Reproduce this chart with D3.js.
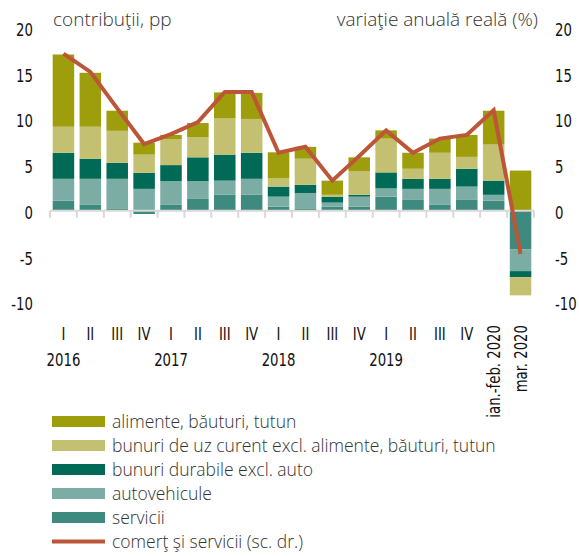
<!DOCTYPE html>
<html>
<head>
<meta charset="utf-8">
<script src="https://cdn.jsdelivr.net/npm/d3@7"></script>
<style>
  body { margin: 0; background: #fff; }
  .tick text, .xlab { font-family: "DejaVu Sans Condensed", "DejaVu Sans", sans-serif; font-size: 18px; fill: #111; }
  .ttl { font-family: "Open Sans", sans-serif; font-weight: 300; font-size: 19px; fill: #333; }
  .leg { font-family: "Open Sans", sans-serif; font-weight: 300; font-size: 17.5px; fill: #333; }
</style>
</head>
<body>
<svg id="chart"></svg>
<script>
const width = 579
const height = 556
const squeeze = 0.82   // narrow the tick font to look condensed

// data
const categories = ["2016 I","2016 II","2016 III","2016 IV","2017 I","2017 II","2017 III","2017 IV",
                    "2018 I","2018 II","2018 III","2018 IV","2019 I","2019 II","2019 III","2019 IV",
                    "ian.-feb. 2020","mar. 2020"]
const quarterLabels = ["I","II","III","IV","I","II","III","IV","I","II","III","IV","I","II","III","IV","",""]
const yearLabels = ["2016","","","","2017","","","","2018","","","","2019","","","","",""]
const rotatedLabels = ["","","","","","","","","","","","","","","","","ian.-feb. 2020","mar. 2020"]

const servicii   = [1.1, 0.65, 0.2, -0.35, 0.65, 1.3, 1.75, 1.75, 0.45, 0.2, 0.45, 0.45, 1.55, 1.25, 0.65, 1.25, 1.1, -4.2]
const autovehicule = [2.4, 2.85, 3.3, 2.4, 2.6, 1.95, 1.55, 1.75, 1.1, 1.75, 0.45, 1.1, 0.9, 1.15, 1.75, 1.4, 0.65, -2.4]
const durabile   = [2.85, 2.2, 1.75, 1.75, 1.75, 2.6, 2.85, 2.85, 1.1, 0.9, 0.65, 0.2, 1.75, 1.1, 1.1, 1.95, 1.55, -0.65]
const uzCurent   = [2.85, 3.5, 3.5, 2.0, 2.85, 2.2, 3.95, 3.7, 0.9, 2.85, 0.2, 2.6, 3.7, 1.1, 2.85, 1.3, 3.95, -2.0]
const alimente   = [7.9, 5.9, 2.2, 1.3, 0.45, 1.55, 2.85, 2.85, 2.85, 1.3, 1.55, 1.5, 0.9, 1.75, 1.55, 2.4, 3.7, 4.4]
const comert     = [17.2, 15.2, 11.2, 7.3, 8.4, 9.7, 13.0, 13.0, 6.35, 7.0, 3.3, 6.0, 8.8, 6.35, 7.9, 8.3, 11.0, -4.7]

const yTicks = [-10, -5, 0, 5, 10, 15, 20]

const seriesNames = ["servicii", "autovehicule", "bunuri durabile excl. auto",
                     "bunuri de uz curent excl. alimente, băuturi, tutun", "alimente, băuturi, tutun"]
const seriesValues = [servicii, autovehicule, durabile, uzCurent, alimente]
const colors = ["#3f8a7e", "#7bada4", "#006a56", "#c3c171", "#9e9d0b"]
const lineColor = "#bd5538"

const rows = categories.map((c, i) => {
  const r = { cat: c }
  seriesNames.forEach((s, k) => r[s] = seriesValues[k][i])
  return r
})

const x = d3.scaleBand()
            .domain(categories)
            .range([50, 534])
            .paddingInner(0.2)
            .paddingOuter(0.1)
const y = d3.scaleLinear()
            .domain([-10, 20])
            .range([302.2, 28])

const svg = d3.select("#chart")
              .attr("width", width)
              .attr("height", height)

const stack = d3.stack()
                .keys(seriesNames)
                .offset(d3.stackOffsetDiverging)
const stacked = stack(rows)

svg.append("g")
   .selectAll("g")
   .data(stacked)
   .join("g")
     .attr("fill", (d, i) => colors[i])
   .selectAll("rect")
   .data(d => d)
   .join("rect")
     .attr("x", d => x(d.data.cat))
     .attr("width", x.bandwidth())
     .attr("y", d => y(Math.max(d[0], d[1])))
     .attr("height", d => Math.abs(y(d[0]) - y(d[1])))

// zero axis with ticks between categories
const step = x.step()
const xa = svg.append("g").attr("stroke", "#d9d9d9").attr("stroke-width", 2)
xa.append("line")
  .attr("x1", 50).attr("x2", 534)
  .attr("y1", y(0)).attr("y2", y(0))
xa.selectAll("line.tk")
  .data(d3.range(categories.length + 1))
  .join("line")
    .attr("class", "tk")
    .attr("x1", i => 50 + i * step).attr("x2", i => 50 + i * step)
    .attr("y1", y(0)).attr("y2", y(0) + 7)

// line on right scale (same range)
const line = d3.line()
               .x((d, i) => x(categories[i]) + x.bandwidth() / 2)
               .y(d => y(d))
svg.append("path")
   .datum(comert)
   .attr("fill", "none")
   .attr("stroke", lineColor)
   .attr("stroke-width", 4)
   .attr("d", line)

// y axes (plain hyphen for negatives, like the original)
const fmt = d => String(d)
const yl = svg.append("g")
              .attr("transform", "translate(33,0)")
              .call(d3.axisLeft(y).tickValues(yTicks).tickFormat(fmt).tickSize(0).tickPadding(0))
yl.select(".domain").remove()
yl.selectAll("text").attr("x", 0).attr("dy", "0.42em").attr("transform", `scale(${squeeze},1)`)

const yr = svg.append("g")
              .attr("transform", "translate(555,0)")
              .call(d3.axisRight(y).tickValues(yTicks).tickFormat(fmt).tickSize(0).tickPadding(0))
yr.select(".domain").remove()
yr.selectAll("text").attr("x", 0).attr("dy", "0.42em").attr("transform", `scale(${squeeze},1)`)

// x labels
const cx = i => x(categories[i]) + x.bandwidth() / 2
svg.append("g")
   .selectAll("text")
   .data(quarterLabels)
   .join("text")
     .attr("class", "xlab")
     .attr("text-anchor", "middle")
     .attr("transform", (d, i) => `translate(${cx(i)},340) scale(${squeeze},1)`)
     .text(d => d)
svg.append("g")
   .selectAll("text")
   .data(yearLabels)
   .join("text")
     .attr("class", "xlab")
     .attr("text-anchor", "middle")
     .attr("transform", (d, i) => `translate(${cx(i)},366) scale(${squeeze},1)`)
     .text(d => d)
svg.append("g")
   .selectAll("text")
   .data(rotatedLabels)
   .join("text")
     .attr("class", "xlab")
     .attr("text-anchor", "end")
     .attr("transform", (d, i) => `translate(${cx(i) + 6},325) rotate(-90) scale(${squeeze},1)`)
     .text(d => d)

// titles
svg.append("text").attr("class", "ttl").attr("x", 53).attr("y", 26).text("contribuţii, pp")
svg.append("text").attr("class", "ttl").attr("x", 538).attr("y", 26).attr("text-anchor", "end").text("variaţie anuală reală (%)")

// legend
const legendItems = [
  { name: "alimente, băuturi, tutun", color: colors[4] },
  { name: "bunuri de uz curent excl. alimente, băuturi, tutun", color: colors[3] },
  { name: "bunuri durabile excl. auto", color: colors[2] },
  { name: "autovehicule", color: colors[1] },
  { name: "servicii", color: colors[0] }
]
const leg = svg.append("g")
legendItems.forEach((it, i) => {
  const cy = 421.5 + i * 24
  leg.append("rect").attr("x", 52).attr("y", cy - 5.5).attr("width", 53).attr("height", 11).attr("fill", it.color)
  leg.append("text").attr("class", "leg").attr("x", 112).attr("y", cy + 6).text(it.name)
})
leg.append("line").attr("x1", 52).attr("x2", 105).attr("y1", 541.5).attr("y2", 541.5)
   .attr("stroke", lineColor).attr("stroke-width", 4)
leg.append("text").attr("class", "leg").attr("x", 112).attr("y", 547.5).text("comerţ şi servicii (sc. dr.)")
</script>
</body>
</html>
